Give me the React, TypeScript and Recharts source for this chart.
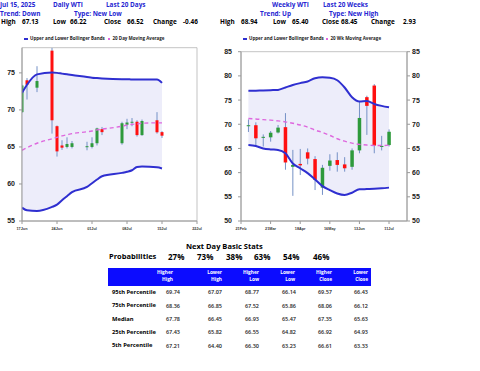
import React from "react";
import { Area, Bar, ComposedChart, Line, ReferenceArea, XAxis, YAxis } from "recharts";

// ---- daily WTI, last 20 sessions ----
const dailyDates = [
  "2025-06-17", "2025-06-18", "2025-06-20", "2025-06-23", "2025-06-24", "2025-06-25", "2025-06-26",
  "2025-06-27", "2025-06-30", "2025-07-01", "2025-07-02", "2025-07-03", "2025-07-07", "2025-07-08",
  "2025-07-09", "2025-07-10", "2025-07-11", "2025-07-14", "2025-07-15",
];
const dailyOpen = [69.7, 74.0, 73.0, 78.0, 67.8, 65.2, 65.0, 65.0, 65.0, 65.0, 65.5, 67.4, 65.5, 68.0, 68.3, 68.4, 66.6, 68.6, 67.0];
const dailyHigh = [73.4, 74.3, 75.9, 78.4, 67.9, 65.9, 66.3, 65.8, 65.7, 66.3, 67.6, 67.7, 68.4, 68.8, 68.9, 68.6, 68.7, 69.7, 67.13];
const dailyLow = [69.6, 71.4, 72.4, 66.8, 63.7, 64.6, 64.8, 64.8, 64.55, 64.8, 65.2, 66.6, 65.3, 67.4, 67.8, 66.4, 66.5, 66.8, 66.22];
const dailyClose = [73.3, 73.4, 73.9, 68.6, 64.4, 64.9, 65.4, 65.5, 65.1, 65.5, 67.5, 67.0, 68.2, 68.3, 68.4, 66.6, 68.5, 66.98, 66.52];
const dailyUpper = [72.3, 73.4, 74.8, 75.05, 75.0, 74.9, 74.8, 74.7, 74.45, 74.35, 74.3, 74.25, 74.15, 74.15, 74.1, 74.1, 74.1, 74.1, 73.65];
const dailyLower = [56.8, 56.45, 56.35, 56.9, 57.2, 57.8, 58.35, 58.9, 59.6, 60.1, 60.6, 61.05, 61.5, 61.65, 61.85, 62.3, 62.35, 62.25, 62.1];
const dailyMa = [64.55, 64.9, 65.5, 66.1, 66.3, 66.5, 66.65, 66.8, 67.05, 67.15, 67.3, 67.4, 67.8, 67.95, 68.05, 68.1, 68.2, 68.25, 68.25];
const dailyTicks = ["2025-06-17", "2025-06-24", "2025-07-01", "2025-07-08", "2025-07-15", "2025-07-22"];
const dailyYTicks = [55, 60, 65, 70, 75];

// ---- weekly WTI, last 20 weeks ----
const weeklyDates = [
  "2025-02-28", "2025-03-07", "2025-03-14", "2025-03-21", "2025-03-28", "2025-04-04", "2025-04-11",
  "2025-04-18", "2025-04-25", "2025-05-02", "2025-05-09", "2025-05-16", "2025-05-23", "2025-05-30",
  "2025-06-06", "2025-06-13", "2025-06-20", "2025-06-27", "2025-07-04", "2025-07-11",
];
const weeklyOpen = [69.6, 69.8, 67.2, 67.3, 68.3, 69.4, 61.2, 61.8, 64.2, 62.8, 56.9, 61.4, 62.6, 61.7, 61.2, 64.6, 75.6, 78.0, 65.3, 65.7];
const weeklyHigh = [71.0, 70.4, 67.9, 68.6, 69.85, 72.3, 64.7, 64.9, 65.0, 63.4, 61.6, 63.8, 64.2, 63.2, 65.0, 74.8, 75.9, 78.3, 67.6, 68.94];
const weeklyLow = [68.4, 65.4, 65.4, 66.4, 68.1, 60.6, 55.2, 59.5, 61.7, 56.4, 55.4, 60.4, 60.2, 60.2, 60.6, 64.0, 67.8, 64.0, 64.6, 65.4];
const weeklyClose = [69.8, 67.1, 67.4, 68.25, 69.3, 62.1, 61.6, 61.5, 62.9, 58.5, 61.0, 62.5, 61.6, 60.9, 64.6, 71.3, 73.8, 65.6, 65.52, 68.45];
const weeklyUpper = [76.9, 76.95, 77.0, 77.05, 77.1, 77.6, 78.1, 78.5, 78.85, 79.5, 79.7, 79.6, 79.1, 77.6, 75.6, 74.7, 74.8, 74.2, 73.8, 73.5];
const weeklyLower = [65.7, 65.5, 65.0, 64.8, 64.7, 64.0, 61.9, 60.9, 59.9, 58.6, 57.2, 56.4, 55.7, 55.4, 55.85, 56.55, 56.6, 56.65, 56.75, 56.9];
const weeklyMa = [71.2, 71.1, 70.95, 70.85, 70.7, 70.5, 70.2, 69.85, 69.4, 68.8, 68.3, 67.7, 67.0, 66.5, 66.1, 65.85, 65.7, 65.6, 65.6, 65.7];
const weeklyTicks = ["2025-02-21", "2025-03-21", "2025-04-18", "2025-05-16", "2025-06-13", "2025-07-11"];
const weeklyYTicks = [50, 55, 60, 65, 70, 75, 80, 85];

// ---- header stats ----
const dailyHead = { date: "Jul 15, 2025", title: "Daily WTI", span: "Last 20 Days", trend: "Down", type: "New Low", high: 67.13, low: 66.22, close: 66.52, change: -0.46 };
const weeklyHead = { title: "Weekly WTI", span: "Last 20 Weeks", trend: "Up", type: "New High", high: 68.94, low: 65.4, close: 68.45, change: 2.93 };

// ---- next day table ----
const probabilities = [27, 73, 38, 63, 54, 46];
const statHeaders = [["Higher", "High"], ["Lower", "High"], ["Higher", "Low"], ["Lower", "Low"], ["Higher", "Close"], ["Lower", "Close"]];
const percentileLabels = ["95th Percentile", "75th Percentile", "Median", "25th Percentile", "5th Percentile"];
const higherHigh = [69.74, 68.36, 67.78, 67.43, 67.21];
const lowerHigh = [67.07, 66.85, 66.45, 65.82, 64.4];
const higherLow = [68.77, 67.52, 66.93, 66.55, 66.3];
const lowerLow = [66.14, 65.86, 65.47, 64.82, 63.23];
const higherClose = [69.57, 68.06, 67.35, 66.92, 66.61];
const lowerClose = [66.43, 66.12, 65.63, 64.93, 63.33];
const statColumns = [higherHigh, lowerHigh, higherLow, lowerLow, higherClose, lowerClose];

const MONTHS = ["Jan", "Feb", "Mar", "Apr", "May", "Jun", "Jul", "Aug", "Sep", "Oct", "Nov", "Dec"];
const DAY_MS = 86400000;
const toDay = (s: string) => Math.round(Date.UTC(+s.slice(0, 4), +s.slice(5, 7) - 1, +s.slice(8, 10)) / DAY_MS);
const fmtTick = (d: number) => {
  const dt = new Date(d * DAY_MS);
  return String(dt.getUTCDate()).padStart(2, "0") + MONTHS[dt.getUTCMonth()];
};

const BLUE_TXT = "#2626d2";
const BAND = "#2f2fd0";
const BAND_FILL = "#ededfa";
const MA = "#de68de";
const UP = "#2e9a3c";
const DOWN = "#ff1010";
const WICK = "#7591c6";
const AXIS = "#9a9a9a";
const HEAD = 6.4;

type Row = { t: number; open: number; high: number; low: number; close: number; upper: number; lower: number; ma: number };

const daily: Row[] = dailyDates.map((d, i) => ({
  t: toDay(d), open: dailyOpen[i], high: dailyHigh[i], low: dailyLow[i], close: dailyClose[i],
  upper: dailyUpper[i], lower: dailyLower[i], ma: dailyMa[i],
}));
const weekly: Row[] = weeklyDates.map((d, i) => ({
  t: toDay(d), open: weeklyOpen[i], high: weeklyHigh[i], low: weeklyLow[i], close: weeklyClose[i],
  upper: weeklyUpper[i], lower: weeklyLower[i], ma: weeklyMa[i],
}));

function Candle(props: any) {
  const { x, y, width, height, payload } = props;
  if (x == null || y == null || !payload) return null;
  const { open, close, high, low } = payload as Row;
  const span = high - low || 1;
  const py = (v: number) => y + ((high - v) / span) * height;
  const cx = x + width / 2;
  const top = py(Math.max(open, close));
  const bot = py(Math.min(open, close));
  return (
    <g>
      <line x1={cx} x2={cx} y1={y} y2={y + height} stroke={WICK} strokeWidth={1} />
      <rect x={x} y={top} width={width} height={Math.max(bot - top, 1)} fill={close >= open ? UP : DOWN} />
    </g>
  );
}

function PriceChart(p: {
  rows: Row[]; left: number; width: number; top: number; right: number; yWidth: number;
  xDomain: [number, number]; xTicks: number[]; yDomain: [number, number]; yTicks: number[];
  barSize: number; mirror?: boolean;
}) {
  const rId = p.mirror ? "r" : "l";
  const yTick = { fontSize: 7, fontWeight: 700, fill: "#1a1a1a" };
  return (
    <div style={{ position: "absolute", left: p.left, top: 0, fontFamily: "'Liberation Sans', Arial, sans-serif" }}>
      <ComposedChart width={p.width} height={240} data={p.rows} margin={{ top: p.top, right: p.right, bottom: 0, left: 0 }}>
        <XAxis
          dataKey="t" type="number" domain={p.xDomain} ticks={p.xTicks} interval={0} allowDataOverflow
          tickFormatter={fmtTick} height={19} tickSize={3} tickMargin={3.5} stroke={AXIS}
          tick={{ fontSize: 3.8, fontWeight: 700, fill: "#333" }}
        />
        <YAxis
          yAxisId="l" domain={p.yDomain} ticks={p.yTicks} interval={0} allowDataOverflow width={p.yWidth}
          tickSize={3} tickMargin={p.mirror ? 6 : 4} stroke={AXIS} tick={yTick}
        />
        {p.mirror && (
          <YAxis
            yAxisId="r" orientation="right" domain={p.yDomain} ticks={p.yTicks} interval={0} allowDataOverflow
            width={20} tickSize={3} tickMargin={2} stroke={AXIS} tick={yTick}
          />
        )}
        <ReferenceArea
          yAxisId="l" x1={p.xDomain[0]} x2={p.xDomain[1]} y1={p.yDomain[0]} y2={p.yDomain[1]}
          fill="none" stroke="#b4b4b4" strokeWidth={0.8} ifOverflow="visible"
        />
        <Area
          yAxisId="l" dataKey={(r: Row) => [r.lower, r.upper]} type="monotone" fill={BAND_FILL} fillOpacity={1}
          stroke="none" dot={false} activeDot={false} isAnimationActive={false}
        />
        <Line yAxisId="l" dataKey="upper" type="monotone" stroke={BAND} strokeWidth={2} dot={false} activeDot={false} isAnimationActive={false} />
        <Line yAxisId={rId} dataKey="lower" type="monotone" stroke={BAND} strokeWidth={2} dot={false} activeDot={false} isAnimationActive={false} />
        <Line yAxisId={rId} dataKey="ma" type="monotone" stroke={MA} strokeWidth={1.4} strokeDasharray="4 3" dot={false} activeDot={false} isAnimationActive={false} />
        <Bar yAxisId="l" dataKey={(r: Row) => [r.low, r.high]} barSize={p.barSize} shape={<Candle />} isAnimationActive={false} />
      </ComposedChart>
    </div>
  );
}

function Txt({ x, y, size, children, color = "#000", weight = 700, align = "left" }: any) {
  return (
    <span
      style={{
        position: "absolute", left: x, top: y - size * 0.56, fontSize: size, lineHeight: 1, fontWeight: weight,
        color, whiteSpace: "nowrap", transform: align === "right" ? "translateX(-100%)" : undefined,
      }}
    >
      {children}
    </span>
  );
}

function LegendRow({ x, label1, label2, x2 }: { x: number; label1: string; label2: string; x2: number }) {
  return (
    <>
      <div style={{ position: "absolute", left: x, top: 38.2, width: 4, height: 2, background: BAND }} />
      <Txt x={x + 6} y={39} size={4.5} color="#222">{label1}</Txt>
      <div style={{ position: "absolute", left: x2, top: 38, width: 2, height: 2, background: MA }} />
      <Txt x={x2 + 4.5} y={39} size={4.5} color="#222">{label2}</Txt>
    </>
  );
}

const fmt2 = (v: number) => v.toFixed(2);

export default function App() {
  const dStart = toDay(dailyTicks[0]);
  const dEnd = toDay(dailyTicks[dailyTicks.length - 1]);
  const wStart = toDay(weeklyTicks[0]);
  const wEnd = toDay("2025-07-28");
  const headerRight = [173, 222, 259, 295, 332, 368];
  const valueRight = [180, 222, 259, 296, 332, 368];
  const pctLeft = [168, 197, 226, 254, 283, 313];
  const rowY = [293, 306.7, 320, 333.3, 346.7];

  return (
    <div
      style={{
        position: "absolute", left: 0, top: 0, width: 480, height: 371, background: "#fff", overflow: "hidden",
        fontFamily: "'Open Sans', sans-serif",
      }}
    >
      <PriceChart
        rows={daily} left={0} width={210} top={47.7} right={13} yWidth={22}
        xDomain={[dStart, dEnd]} xTicks={dailyTicks.map(toDay)} yDomain={[55, 78.4]} yTicks={dailyYTicks} barSize={3}
      />
      <PriceChart
        rows={weekly} left={215} width={265} top={51.7} right={53} yWidth={26}
        xDomain={[wStart, wEnd]} xTicks={weeklyTicks.map(toDay)} yDomain={[50, 85]} yTicks={weeklyYTicks} barSize={3.5} mirror
      />

      {/* header, daily */}
      <Txt x={0} y={6} size={HEAD} color={BLUE_TXT}>{dailyHead.date}</Txt>
      <Txt x={53} y={6} size={HEAD} color={BLUE_TXT}>{dailyHead.title}</Txt>
      <Txt x={106} y={6} size={HEAD} color={BLUE_TXT}>{dailyHead.span}</Txt>
      <Txt x={0} y={14.5} size={HEAD} color={BLUE_TXT}>Trend: {dailyHead.trend}</Txt>
      <Txt x={74} y={14.5} size={HEAD} color={BLUE_TXT}>Type: {dailyHead.type}</Txt>
      <Txt x={1} y={23} size={HEAD}>High</Txt>
      <Txt x={22} y={23} size={HEAD}>{fmt2(dailyHead.high)}</Txt>
      <Txt x={53} y={23} size={HEAD}>Low</Txt>
      <Txt x={70} y={23} size={HEAD}>{fmt2(dailyHead.low)}</Txt>
      <Txt x={104} y={23} size={HEAD}>Close</Txt>
      <Txt x={127} y={23} size={HEAD}>{fmt2(dailyHead.close)}</Txt>
      <Txt x={153} y={23} size={HEAD}>Change</Txt>
      <Txt x={183} y={23} size={HEAD}>{fmt2(dailyHead.change)}</Txt>

      {/* header, weekly */}
      <Txt x={272} y={6} size={HEAD} color={BLUE_TXT}>{weeklyHead.title}</Txt>
      <Txt x={323} y={6} size={HEAD} color={BLUE_TXT}>{weeklyHead.span}</Txt>
      <Txt x={260} y={14.5} size={HEAD} color={BLUE_TXT}>Trend: {weeklyHead.trend}</Txt>
      <Txt x={329} y={14.5} size={HEAD} color={BLUE_TXT}>Type: {weeklyHead.type}</Txt>
      <Txt x={220} y={23} size={HEAD}>High</Txt>
      <Txt x={241} y={23} size={HEAD}>{fmt2(weeklyHead.high)}</Txt>
      <Txt x={273} y={23} size={HEAD}>Low</Txt>
      <Txt x={292} y={23} size={HEAD}>{fmt2(weeklyHead.low)}</Txt>
      <Txt x={322} y={23} size={HEAD}>Close</Txt>
      <Txt x={341} y={23} size={HEAD}>{fmt2(weeklyHead.close)}</Txt>
      <Txt x={371} y={23} size={HEAD}>Change</Txt>
      <Txt x={403} y={23} size={HEAD}>{fmt2(weeklyHead.change)}</Txt>

      <LegendRow x={24} label1="Upper and Lower Bollinger Bands" x2={108} label2="20 Day Moving Average" />
      <LegendRow x={243} label1="Upper and Lower Bollinger Bands" x2={326} label2="20 Wk Moving Average" />

      {/* next day stats */}
      <Txt x={186} y={247.5} size={7.5}>Next Day Basic Stats</Txt>
      <Txt x={109} y={257} size={7.5}>Probabilities</Txt>
      {probabilities.map((v, i) => (
        <Txt key={i} x={pctLeft[i]} y={257} size={8}>{v}%</Txt>
      ))}
      <div style={{ position: "absolute", left: 108, top: 268, width: 263, height: 18, background: "#0c0cff" }} />
      {statHeaders.map((h, i) => (
        <React.Fragment key={i}>
          <Txt x={headerRight[i]} y={273} size={4.8} color="#fff" align="right">{h[0]}</Txt>
          <Txt x={headerRight[i]} y={280} size={4.8} color="#fff" align="right">{h[1]}</Txt>
        </React.Fragment>
      ))}
      {percentileLabels.map((lab, r) => (
        <React.Fragment key={lab}>
          <Txt x={112} y={rowY[r]} size={5.8}>{lab}</Txt>
          {statColumns.map((col, c) => (
            <Txt key={c} x={valueRight[c]} y={rowY[r]} size={5.5} weight={600} color="#222" align="right">
              {fmt2(col[r])}
            </Txt>
          ))}
        </React.Fragment>
      ))}
    </div>
  );
}
